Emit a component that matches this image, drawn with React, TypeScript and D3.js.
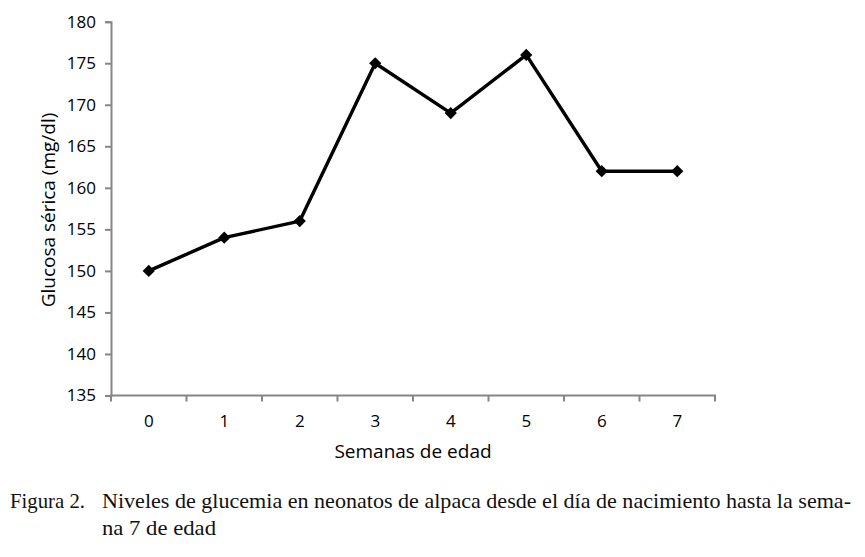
import React, { useEffect, useRef } from 'react';
import * as d3 from 'd3';

// weeks of age and mean serum glucose (mg/dl)
const weeks = ['0', '1', '2', '3', '4', '5', '6', '7'];
const glucose = [150, 154, 156, 175, 169, 176, 162, 162];
const yTicks = [135, 140, 145, 150, 155, 160, 165, 170, 175, 180];

const captionLabel = 'Figura 2.';
const captionLine1 = 'Niveles de glucemia en neonatos de alpaca desde el día de nacimiento hasta la sema-';
const captionLine2 = 'na 7 de edad';

export default function App() {
  const svgRef = useRef<SVGSVGElement>(null);

  useEffect(() => {
    const width = 865;
    const height = 557;
    const svg = d3.select(svgRef.current).attr('width', width).attr('height', height);
    svg.selectAll('*').remove();

    const sans = '"Open Sans", sans-serif';
    const axisColor = '#868686';

    const xScale = d3.scaleBand<string>().domain(weeks).range([111, 715]);
    const yScale = d3.scaleLinear().domain([135, 180]).range([395.5, 21.7]);

    // y axis
    const yAxis = d3.axisLeft(yScale).tickValues(yTicks).tickSize(6).tickPadding(9);
    const gy = svg.append('g').attr('transform', 'translate(111,0)').call(yAxis);
    gy.select('.domain').attr('stroke', axisColor).attr('stroke-width', 2);
    gy.selectAll('.tick line').attr('stroke', axisColor).attr('stroke-width', 2);
    gy.selectAll('.tick text')
      .attr('fill', '#000')
      .style('font-family', sans)
      .style('font-size', '17px');

    // x axis: ticks sit at the band edges, labels at band centres
    const gx = svg.append('g').attr('transform', 'translate(0,395.5)');
    gx.append('line')
      .attr('x1', 110).attr('x2', 716)
      .attr('stroke', axisColor).attr('stroke-width', 2);
    const edges = weeks.map((w) => xScale(w)!).concat([xScale.range()[1]]);
    gx.selectAll('.edge')
      .data(edges)
      .enter()
      .append('line')
      .attr('class', 'edge')
      .attr('x1', (d) => d).attr('x2', (d) => d)
      .attr('y1', 0).attr('y2', 6)
      .attr('stroke', axisColor).attr('stroke-width', 2);
    gx.selectAll('.lbl')
      .data(weeks)
      .enter()
      .append('text')
      .attr('class', 'lbl')
      .attr('x', (d) => xScale(d)! + xScale.bandwidth() / 2)
      .attr('y', 31.5)
      .attr('text-anchor', 'middle')
      .style('font-family', sans)
      .style('font-size', '17px')
      .text((d) => d);

    // axis titles
    svg.append('text')
      .attr('x', 413)
      .attr('y', 458)
      .attr('text-anchor', 'middle')
      .style('font-family', sans)
      .style('font-size', '19px')
      .text('Semanas de edad');
    svg.append('text')
      .attr('transform', 'translate(55,210) rotate(-90)')
      .attr('text-anchor', 'middle')
      .style('font-family', sans)
      .style('font-size', '19px')
      .text('Glucosa sérica (mg/dl)');

    // series line + diamond markers
    const pts = weeks.map((w, i) => ({ w, v: glucose[i] }));
    const line = d3.line<{ w: string; v: number }>()
      .x((d) => xScale(d.w)! + xScale.bandwidth() / 2)
      .y((d) => yScale(d.v));
    svg.append('path')
      .attr('d', line(pts))
      .attr('fill', 'none')
      .attr('stroke', '#000')
      .attr('stroke-width', 3.4)
      .attr('stroke-linejoin', 'round');
    const diamond = d3.symbol().type(d3.symbolDiamond2).size(95);
    svg.selectAll('.mk')
      .data(pts)
      .enter()
      .append('path')
      .attr('class', 'mk')
      .attr('d', diamond)
      .attr('transform', (d) => `translate(${xScale(d.w)! + xScale.bandwidth() / 2},${yScale(d.v)})`)
      .attr('fill', '#000');

    // caption
    const serif = '"Liberation Serif", "Times New Roman", serif';
    svg.append('text')
      .attr('x', 10).attr('y', 508)
      .attr('textLength', 75).attr('lengthAdjust', 'spacingAndGlyphs')
      .style('font-family', serif).style('font-size', '22px').attr('fill', '#111')
      .text(captionLabel);
    svg.append('text')
      .attr('x', 102).attr('y', 508)
      .attr('textLength', 749).attr('lengthAdjust', 'spacingAndGlyphs')
      .style('font-family', serif).style('font-size', '22px').attr('fill', '#111')
      .text(captionLine1);
    svg.append('text')
      .attr('x', 102).attr('y', 535)
      .attr('textLength', 114).attr('lengthAdjust', 'spacingAndGlyphs')
      .style('font-family', serif).style('font-size', '22px').attr('fill', '#111')
      .text(captionLine2);
  }, []);

  return (
    <div style={{ position: 'absolute', left: 0, top: 0 }}>
      <svg ref={svgRef} style={{ display: 'block', background: '#fff' }}></svg>
    </div>
  );
}
